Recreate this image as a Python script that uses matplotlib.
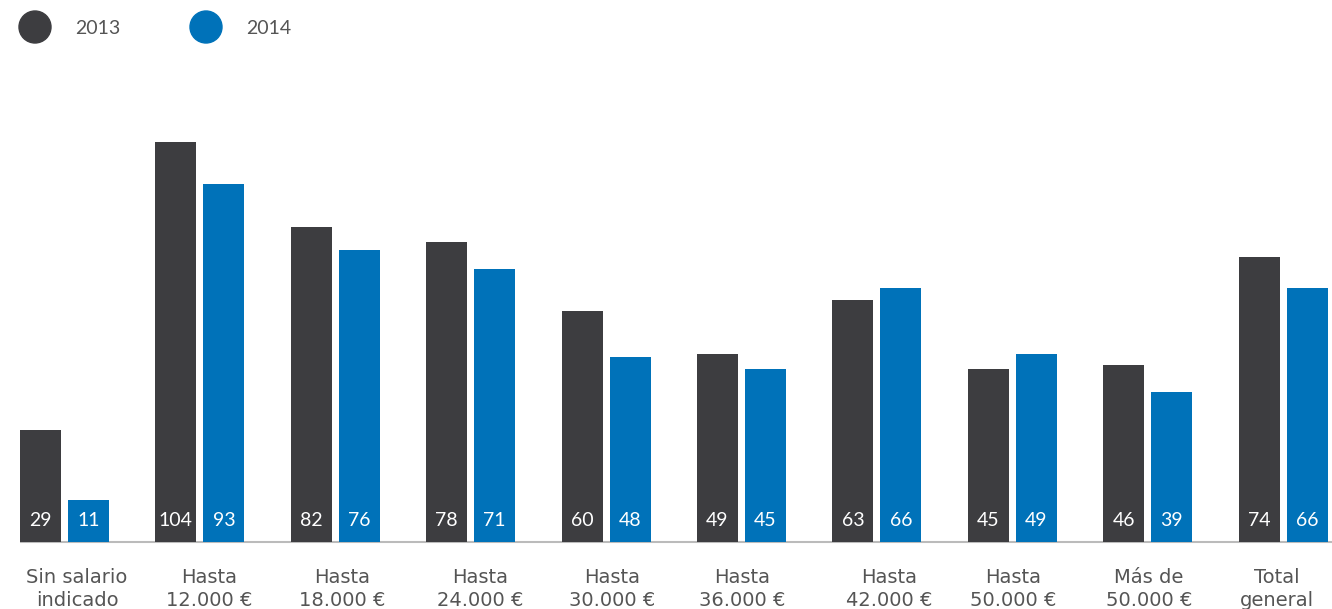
import matplotlib
matplotlib.use("Agg")
import matplotlib.pyplot as plt
from matplotlib.patches import Ellipse
import numpy as np

categories = ["Sin salario\nindicado", "Hasta\n12.000 €", "Hasta\n18.000 €", "Hasta\n24.000 €",
              "Hasta\n30.000 €", "Hasta\n36.000 €", "Hasta\n42.000 €", "Hasta\n50.000 €",
              "Más de\n50.000 €", "Total\ngeneral"]
series_names = ["2013", "2014"]
values_2013 = [29, 104, 82, 78, 60, 49, 63, 45, 46, 74]
values_2014 = [11, 93, 76, 71, 48, 45, 66, 49, 39, 66]

# layout: label x shift in pixels, mimicking the original text placement
label_shift_px = [12.5, 9.6, 6.7, 9.3, 5.9, 0.5, 12.1, 0.7, 1.3, -6.1]

dark = "#3d3d40"
blue = "#0072b9"
text_gray = "#555555"
plt.rcParams['font.family'] = ['Lato', 'DejaVu Sans']

W, H = 1332, 609
fig = plt.figure(figsize=(W / 100, H / 100), dpi=100)
px_per_group = 135.4
x0 = -64.5 / px_per_group
x1 = (W - 64.5) / px_per_group
base_px = 542
ax = fig.add_axes([0, (H - base_px) / H, 1, base_px / H])
unit_px = 3.846
ax.set_xlim(x0, x1)
ax.set_ylim(0, base_px / unit_px)
ax.axis("off")

x = np.arange(len(categories))
bw = 41 / px_per_group
off = 24 / px_per_group
b1 = ax.bar(x - off, values_2013, width=bw, color=dark, zorder=2)
b2 = ax.bar(x + off, values_2014, width=bw, color=blue, zorder=2)

for bars, vals in ((b1, values_2013), (b2, values_2014)):
    for rect, v in zip(bars, vals):
        ax.annotate(str(v), (rect.get_x() + rect.get_width() / 2, 0), xytext=(0, 21),
                    textcoords="offset pixels", ha="center", va="center",
                    color="white", fontsize=14, zorder=3)

ax.plot([20 / px_per_group + x0, x1], [0, 0], color="#bbbbbb", lw=1.5, zorder=1,
        clip_on=False, solid_capstyle="butt")

for i, (lab, s) in enumerate(zip(categories, label_shift_px)):
    ax.annotate(lab, (i, 0), xytext=(s, -26), textcoords="offset pixels",
                ha="center", va="top", color=text_gray, fontsize=14,
                family="DejaVu Sans", linespacing=1.3, annotation_clip=False)

# legend
for cx, tx, col, name in ((35, 75, dark, series_names[0]), (206, 246, blue, series_names[1])):
    fig.patches.append(Ellipse((cx / W, 1 - 27 / H), 32 / W, 32 / H,
                               transform=fig.transFigure, color=col))
    fig.text(tx / W, 1 - 29 / H, name, ha="left", va="center", color=text_gray, fontsize=14)

fig.savefig("out.png", dpi=100)
